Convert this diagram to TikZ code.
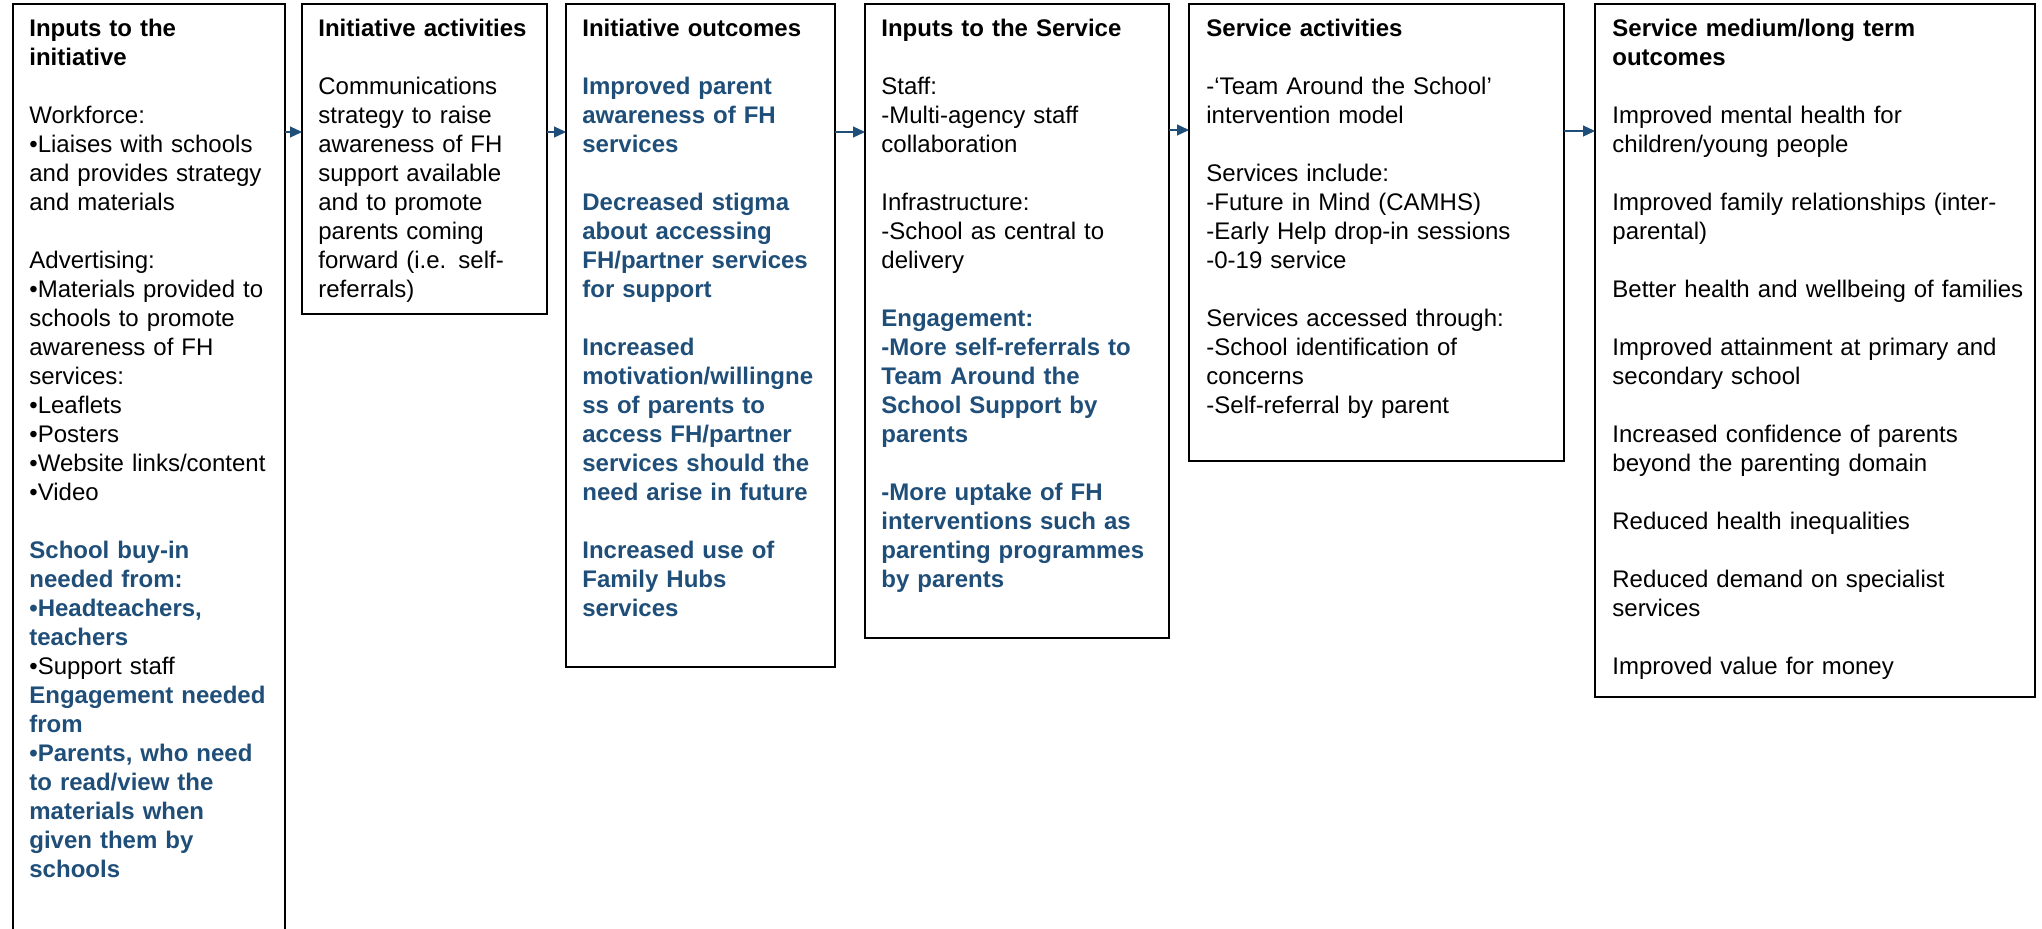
\documentclass[tikz,border=0pt]{standalone}
\usepackage{fontspec}
\setmainfont{Liberation Sans}
\usetikzlibrary{arrows.meta}
\definecolor{fhblue}{RGB}{31,78,121}
\newcommand\gap{\\[14.5pt]}
\newcommand\hl[1]{{\color{fhblue}\bfseries #1}}
\begin{document}
\begin{tikzpicture}[x=0.5pt,y=-0.5pt,
  frame/.style={draw=black, line width=1pt, rectangle, anchor=north west, inner sep=0pt, outer sep=0pt},
  txt/.style={anchor=base west, inner sep=0pt, align=left, font=\fontsize{12pt}{14.5pt}\selectfont, text width=#1},
  arr/.style={draw=fhblue, line width=0.6pt, -{Triangle[length=6pt,width=5.5pt]}}
]
\useasboundingbox (0,0) rectangle (2042,928);
% boxes
\node[frame, minimum width=136pt, minimum height=480pt] (b1) at (13,4) {};
\node[frame, minimum width=122.5pt, minimum height=155pt] (b2) at (302,4) {};
\node[frame, minimum width=134.5pt, minimum height=331.5pt] (b3) at (566,4) {};
\node[frame, minimum width=152pt, minimum height=317pt] (b4) at (865,4) {};
\node[frame, minimum width=187.5pt, minimum height=228.5pt] (b5) at (1189,4) {};
\node[frame, minimum width=220pt, minimum height=346.5pt] (b6) at (1595,4) {};
% texts
\node[txt=128pt] (t1) at (29,36) {\textbf{Inputs to the}\\
\textbf{initiative}\gap
Workforce:\\
•Liaises with schools\\
and provides strategy\\
and materials\gap
Advertising:\\
•Materials provided to\\
schools to promote\\
awareness of FH\\
services:\\
•Leaflets\\
•Posters\\
•Website links/content\\
•Video\gap
\hl{School buy-in}\\
\hl{needed from:}\\
\hl{•Headteachers,}\\
\hl{teachers}\\
•Support staff\\
\hl{Engagement needed}\\
\hl{from}\\
\hl{•Parents, who need}\\
\hl{to read/view the}\\
\hl{materials when}\\
\hl{given them by}\\
\hl{schools}};
\node[txt=116pt] (t2) at (318,36) {\textbf{Initiative activities}\gap
Communications\\
strategy to raise\\
awareness of FH\\
support available\\
and to promote\\
parents coming\\
forward (i.e. self-\\
referrals)};
\node[txt=128pt] (t3) at (582,36) {\textbf{Initiative outcomes}\gap
\hl{Improved parent}\\
\hl{awareness of FH}\\
\hl{services}\gap
\hl{Decreased stigma}\\
\hl{about accessing}\\
\hl{FH/partner services}\\
\hl{for support}\gap
\hl{Increased}\\
\hl{motivation/willingne}\\
\hl{ss of parents to}\\
\hl{access FH/partner}\\
\hl{services should the}\\
\hl{need arise in future}\gap
\hl{Increased use of}\\
\hl{Family Hubs}\\
\hl{services}};
\node[txt=145pt] (t4) at (881,36) {\textbf{Inputs to the Service}\gap
Staff:\\
-Multi-agency staff\\
collaboration\gap
Infrastructure:\\
-School as central to\\
delivery\gap
\hl{Engagement:}\\
\hl{-More self-referrals to}\\
\hl{Team Around the}\\
\hl{School Support by}\\
\hl{parents}\gap
\hl{-More uptake of FH}\\
\hl{interventions such as}\\
\hl{parenting programmes}\\
\hl{by parents}};
\node[txt=180pt] (t5) at (1206,36) {\textbf{Service activities}\gap
-‘Team Around the School’\\
intervention model\gap
Services include:\\
-Future in Mind (CAMHS)\\
-Early Help drop-in sessions\\
-0-19 service\gap
Services accessed through:\\
-School identification of\\
concerns\\
-Self-referral by parent};
\node[txt=212pt] (t6) at (1612,36) {\textbf{Service medium/long term}\\
\textbf{outcomes}\gap
Improved mental health for\\
children/young people\gap
Improved family relationships (inter-\\
parental)\gap
Better health and wellbeing of families\gap
Improved attainment at primary and\\
secondary school\gap
Increased confidence of parents\\
beyond the parenting domain\gap
Reduced health inequalities\gap
Reduced demand on specialist\\
services\gap
Improved value for money};
% arrows
\draw[arr] ([yshift=-64pt]b1.north east) -- ([yshift=-64pt]b2.north west);
\draw[arr] ([yshift=-64pt]b2.north east) -- ([yshift=-64pt]b3.north west);
\draw[arr] ([yshift=-64pt]b3.north east) -- ([yshift=-64pt]b4.north west);
\draw[arr] ([yshift=-63pt]b4.north east) -- ([yshift=-63pt]b5.north west);
\draw[arr] ([yshift=-63.5pt]b5.north east) -- ([yshift=-63.5pt]b6.north west);
\end{tikzpicture}
\end{document}
